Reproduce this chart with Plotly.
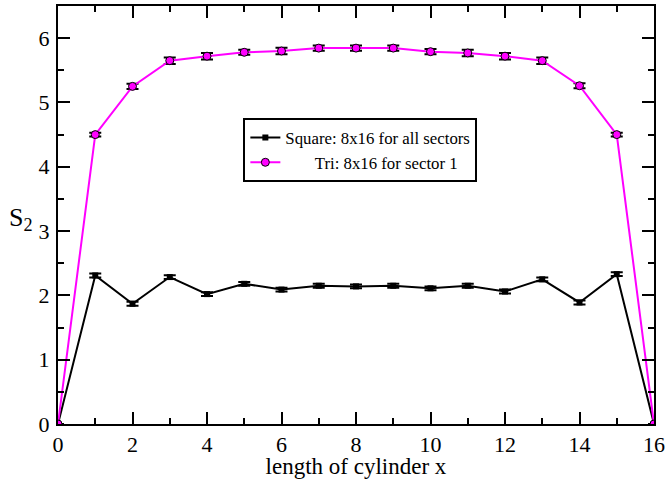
import plotly.graph_objects as go

x_vals = list(range(17))
square_vals = [0, 2.31, 1.87, 2.285, 2.02, 2.18, 2.09, 2.15, 2.14, 2.15, 2.11, 2.15, 2.06, 2.25, 1.89, 2.33, 0]
square_err = [0, 0.03, 0.03, 0.03, 0.03, 0.03, 0.03, 0.03, 0.03, 0.03, 0.03, 0.03, 0.03, 0.03, 0.03, 0.03, 0]
tri_vals = [0, 4.50, 5.25, 5.65, 5.72, 5.78, 5.80, 5.845, 5.845, 5.845, 5.79, 5.77, 5.72, 5.65, 5.26, 4.50, 0]
tri_err = [0, 0.03, 0.04, 0.05, 0.05, 0.04, 0.05, 0.04, 0.04, 0.04, 0.04, 0.05, 0.05, 0.05, 0.04, 0.03, 0]

font = "Liberation Serif"

fig = go.Figure()
fig.add_trace(go.Scatter(
    x=x_vals, y=square_vals, mode="lines+markers",
    name="Square: 8x16 for all sectors",
    line=dict(color="black", width=2),
    marker=dict(symbol="square", size=6, color="black"),
    error_y=dict(type="data", array=square_err, visible=True, color="black", thickness=2, width=6),
))
fig.add_trace(go.Scatter(
    x=x_vals, y=tri_vals, mode="lines+markers",
    name="\u00a0\u00a0\u00a0\u00a0\u00a0\u00a0\u00a0Tri: 8x16 for sector 1",
    line=dict(color="#ff00ff", width=2),
    marker=dict(symbol="circle", size=8, color="#ff00ff", line=dict(color="black", width=1)),
    error_y=dict(type="data", array=tri_err, visible=True, color="black", thickness=2, width=6),
))

fig.update_layout(
    width=668, height=479,
    margin=dict(l=58, r=14, t=6, b=55, autoexpand=False),
    paper_bgcolor="white", plot_bgcolor="white",
    font=dict(family=font, color="black"),
    showlegend=True,
    legend=dict(x=0.311, y=0.732, xanchor="left", yanchor="top",
                bordercolor="black", borderwidth=2, bgcolor="white",
                font=dict(family=font, size=16.8), itemwidth=30,
                tracegroupgap=0),
    xaxis=dict(range=[0, 16], dtick=2, tick0=0, showgrid=False, zeroline=False, automargin=False,
               showline=True, linecolor="black", linewidth=2, mirror="allticks",
               ticks="inside", ticklen=12, tickwidth=2, tickcolor="black",
               minor=dict(ticks="inside", ticklen=6, dtick=1, tickwidth=2, tickcolor="black"),
               tickfont=dict(family=font, size=22),
               title=dict(text="length of cylinder x", font=dict(family=font, size=23), standoff=0)),
    yaxis=dict(range=[0, 6.5], dtick=1, tick0=0, showgrid=False, zeroline=False, automargin=False,
               showline=True, linecolor="black", linewidth=2, mirror="allticks",
               ticks="inside", ticklen=12, tickwidth=2, tickcolor="black",
               minor=dict(ticks="inside", ticklen=6, dtick=0.5, tickwidth=2, tickcolor="black"),
               tickfont=dict(family=font, size=22), ticklabelstandoff=2),
    annotations=[dict(text="S<sub>2</sub>", x=-0.039, y=0.49, xref="paper", yref="paper",
                      xanchor="right", yanchor="middle", showarrow=False,
                      font=dict(family=font, size=26))],
)

fig.write_html("out.html", config={"displayModeBar": False},
               post_script="document.body.style.margin='0';document.body.style.padding='0';")
